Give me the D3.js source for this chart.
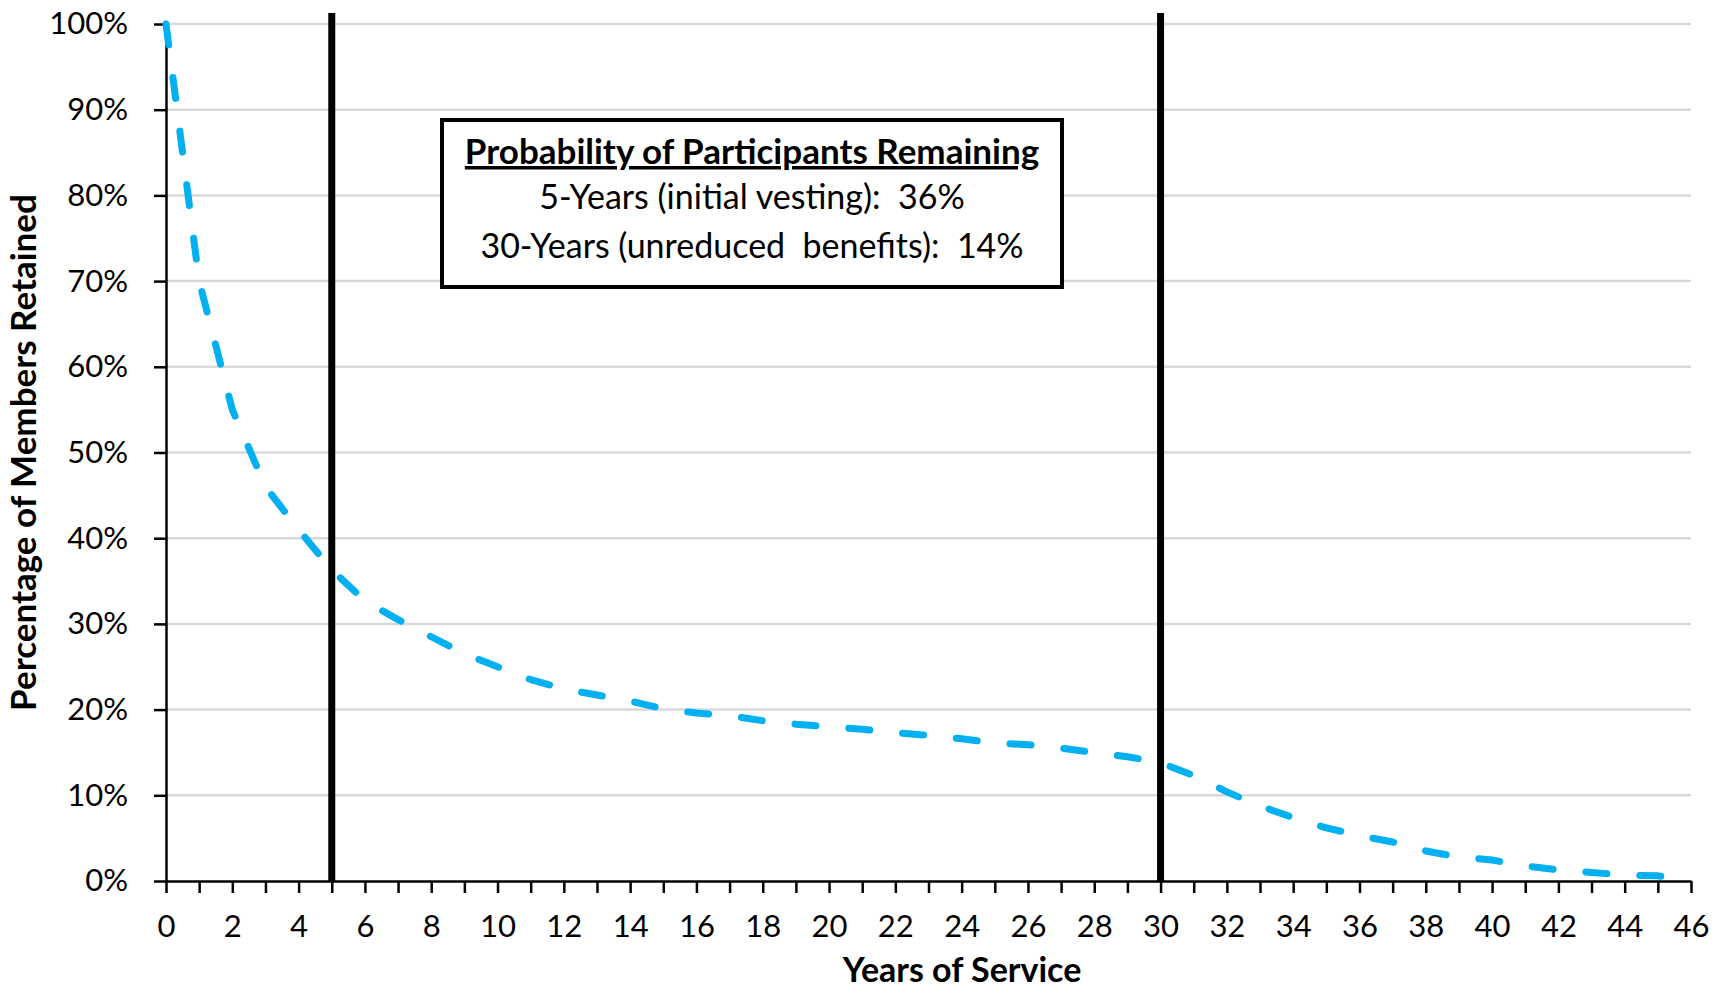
<!DOCTYPE html>
<html>
<head>
<meta charset="utf-8">
<script src="https://cdn.jsdelivr.net/npm/d3@7"></script>
<style>
    body { margin: 0; background: #fff; }
    text { font-family: Lato, "Open Sans", sans-serif; fill: #000; }
</style>
</head>
<body>
<div id="chartCanvas"></div>
<script>
var width = 1727;
var height = 993;

// years of service (categories)
var years = [0, 1, 2, 3, 4, 5, 6, 7, 8, 9, 10, 11, 12, 13, 14, 15, 16, 17, 18, 19, 20, 21, 22, 23,
    24, 25, 26, 27, 28, 29, 30, 31, 32, 33, 34, 35, 36, 37, 38, 39, 40, 41, 42, 43, 44, 45, 46];

// share of members still retained
var retained = [1.000, 0.700, 0.550, 0.460, 0.410, 0.363, 0.327, 0.305, 0.285, 0.265, 0.250, 0.235,
    0.224, 0.217, 0.210, 0.201, 0.196, 0.193, 0.187, 0.183, 0.180, 0.177, 0.173, 0.170, 0.166,
    0.161, 0.159, 0.155, 0.150, 0.145, 0.138, 0.123, 0.104, 0.0875, 0.074, 0.062, 0.053, 0.0455,
    0.035, 0.028, 0.0245, 0.0175, 0.013, 0.010, 0.007, 0.006, 0.000];

var yTicks = [0, 0.1, 0.2, 0.3, 0.4, 0.5, 0.6, 0.7, 0.8, 0.9, 1.0];
var xTickLabels = [0, 2, 4, 6, 8, 10, 12, 14, 16, 18, 20, 22, 24, 26, 28, 30, 32, 34, 36, 38, 40, 42, 44, 46];

// milestone years (initial vesting, unreduced benefits)
var milestones = [5, 30];

var boxTitle = "Probability of Participants Remaining";
var boxLines = ["5-Years (initial vesting):  36%", "30-Years (unreduced  benefits):  14%"];

var xTitle = "Years of Service";
var yTitle = "Percentage of Members Retained";

var margin = {left: 166, right: 36, top: 24, bottom: 112};

var svg = d3.select("#chartCanvas").append("svg")
    .attr("width", width).attr("height", height);

var x = d3.scaleLinear().domain([0, 46]).range([margin.left, width - margin.right]);
var y = d3.scaleLinear().domain([0, 1]).range([height - margin.bottom, margin.top]);

//gridlines
svg.append("g").selectAll("line").data(yTicks.slice(1)).enter().append("line")
    .attr("x1", x(0)).attr("x2", x(46))
    .attr("y1", function(d) { return y(d); })
    .attr("y2", function(d) { return y(d); })
    .style("stroke", "#d9d9d9")
    .style("stroke-width", "2.5");

//y axis
var yAxis = svg.append("g").attr("transform", "translate(" + x(0) + ",0)")
    .call(d3.axisLeft(y).tickValues(yTicks).tickSize(12).tickSizeOuter(0).tickPadding(26)
        .tickFormat(d3.format(".0%")));
yAxis.selectAll("line, path").style("stroke", "#000").style("stroke-width", "2.5");
yAxis.selectAll("text").style("font-size", "31px").style("font-family", "Lato");

//x axis
var xAxis = svg.append("g").attr("transform", "translate(0," + y(0) + ")")
    .call(d3.axisBottom(x).tickValues(years).tickSize(12).tickSizeOuter(0).tickPadding(22)
        .tickFormat(function(d) { return xTickLabels.indexOf(d) >= 0 ? d : ""; }));
xAxis.selectAll("line, path").style("stroke", "#000").style("stroke-width", "2.5");
xAxis.selectAll("text").style("font-size", "31px").style("font-family", "Lato");

//milestone bars
svg.append("g").selectAll("line").data(milestones).enter().append("line")
    .attr("x1", function(d) { return x(d); })
    .attr("x2", function(d) { return x(d); })
    .attr("y1", y(1) - 11)
    .attr("y2", y(0))
    .style("stroke", "#000")
    .style("stroke-width", "7");

//text box
var box = svg.append("g");
box.append("rect")
    .attr("x", 442).attr("y", 120).attr("width", 620).attr("height", 167)
    .style("fill", "#fff").style("stroke", "#000").style("stroke-width", "4");
box.append("text")
    .attr("x", 752).attr("y", 164)
    .attr("text-anchor", "middle")
    .style("font-size", "35px").style("font-weight", "bold")
    .style("text-decoration", "underline")
    .text(boxTitle);
box.selectAll(".boxLine").data(boxLines).enter().append("text")
    .attr("class", "boxLine")
    .attr("x", 752)
    .attr("y", function(d, i) { return 209 + i * 49; })
    .attr("text-anchor", "middle")
    .style("font-size", "34px")
    .style("white-space", "pre")
    .text(function(d) { return d; });

//retention curve
var line = d3.line()
    .x(function(d, i) { return x(years[i]); })
    .y(function(d) { return y(d); });

svg.append("path").datum(retained)
    .attr("d", line)
    .style("fill", "none")
    .style("stroke", "#00b0f0")
    .style("stroke-width", "7")
    .style("stroke-linecap", "round")
    .style("stroke-linejoin", "round")
    .style("stroke-dasharray", "21,33");

//axis titles
svg.append("text")
    .attr("x", 962).attr("y", 982)
    .attr("text-anchor", "middle")
    .style("font-size", "34px").style("font-weight", "bold")
    .text(xTitle);

svg.append("text")
    .attr("transform", "translate(36," + ((y(0) + y(1)) / 2) + ") rotate(-90)")
    .attr("text-anchor", "middle")
    .style("font-size", "35px").style("font-weight", "bold")
    .text(yTitle);
</script>
</body>
</html>
